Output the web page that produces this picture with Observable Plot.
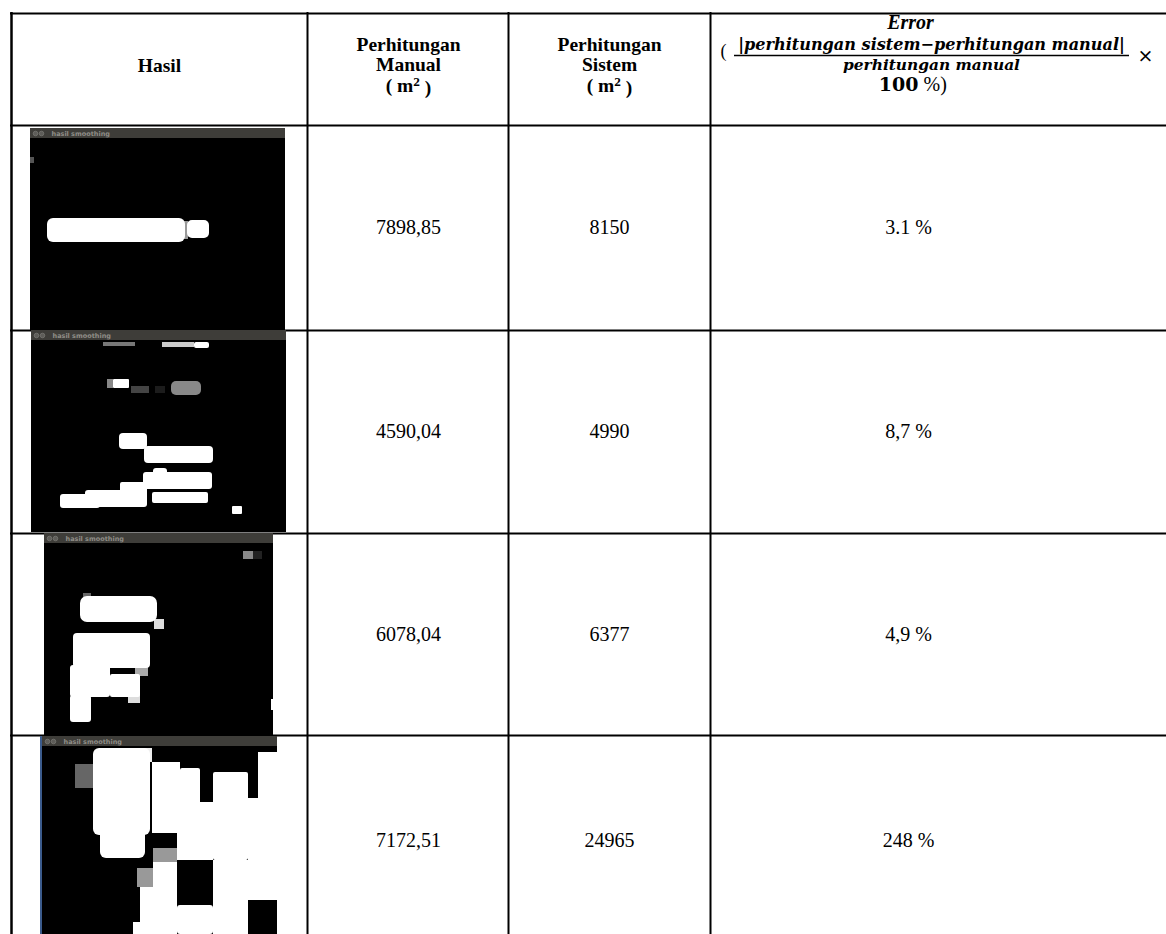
<!DOCTYPE html>
<html><head><meta charset="utf-8">
<script src="https://cdn.jsdelivr.net/npm/d3@7"></script>
<script src="https://cdn.jsdelivr.net/npm/@observablehq/plot@0.6"></script>
<style>html,body{margin:0;padding:0;background:#fff}</style>
</head><body><div id="chart"></div>
<script>
// ---------- table content ----------
const colHasil = ["Hasil"];
const colManual = ["Perhitungan", "Manual", "( m²)"];
const colSistem = ["Perhitungan", "Sistem", "( m²)"];
const errTitle = "Error";
const errNumerator = "|perhitungan sistem−perhitungan manual|";
const errDenominator = "perhitungan manual";
const manualValues = ["7898,85", "4590,04", "6078,04", "7172,51"];
const sistemValues = ["8150", "4990", "6377", "24965"];
const errorValues = ["3.1 %", "8,7 %", "4,9 %", "248 %"];
const windowTitle = "hasil smoothing";

// ---------- layout (pixel space) ----------
const W = 1166, H = 934;
const colEdges = [11, 307, 508, 710];
const rowEdges = [13, 125, 330, 533, 735];
const tableRight = 1166, tableBottom = 945;
const colCenters = [159, 408, 609, 908];
const rowCenters = rowEdges.slice(1).map((e, i, a) => (e + (a[i + 1] ?? tableBottom)) / 2);

// screenshot frames of the "hasil smoothing" windows
const frames = [
  {x1: 30, x2: 285, y1: 128, y2: 330},
  {x1: 31, x2: 286, y1: 330, y2: 532},
  {x1: 44, x2: 273, y1: 533, y2: 735},
  {x1: 42, x2: 277, y1: 736, y2: 934}
];
// blobs seen inside the windows [x1,y1,x2,y2,fill,r]
const blobs1 = [
  [30,157,34,163,"#555",0],[47,218,185,242,"#fff",6],[183,221,188,239,"#999",0],[187,220,209,238,"#fff",5]
];
const blobs2 = [
  [103,342,135,346,"#777",0],[162,342,194,347,"#ccc",0],[194,342,209,348,"#fff",2],
  [107,379,113,388,"#888",0],[113,379,129,388,"#fff",1],[131,386,149,393,"#444",0],[155,386,165,393,"#1c1c1c",0],
  [171,381,201,395,"#888",5],[119,433,147,449,"#fff",4],[144,446,213,463,"#fff",4],
  [153,468,167,476,"#fff",3],[143,472,212,489,"#fff",3],[124,483,143,489,"#888",0],
  [60,494,100,508,"#fff",3],[85,490,147,507,"#fff",3],[120,482,147,500,"#fff",2],
  [152,492,208,503,"#fff",2],[232,506,242,514,"#fff",1]
];
const blobs3 = [
  [243,551,253,559,"#888",0],[253,551,262,559,"#222",0],
  [80,596,157,622,"#fff",7],[83,593,91,599,"#666",0],[132,610,147,619,"#999",0],[154,619,164,629,"#ddd",0],
  [73,633,150,668,"#fff",4],[70,665,110,697,"#fff",3],[110,674,140,697,"#fff",2],[135,667,148,676,"#aaa",0],
  [128,693,140,703,"#ddd",0],[70,695,91,722,"#fff",3],[271,699,273,710,"#fff",0]
];
const blobs4 = [
  [75,764,93,788,"#666",0],[93,748,150,835,"#fff",6],[100,828,145,858,"#fff",6],
  [133,748,152,762,"#eee",0],[135,762,150,785,"#999",0],
  [152,762,180,833,"#fff",0],[180,768,200,833,"#fff",2],[200,802,213,833,"#fff",0],[213,772,248,860,"#fff",2],
  [258,752,277,800,"#fff",0],[248,798,277,900,"#fff",0],[177,830,213,860,"#fff",0],
  [153,848,177,862,"#999",0],[153,862,177,892,"#fff",0],[137,868,153,887,"#999",0],
  [140,887,177,934,"#fff",0],[133,922,177,934,"#fff",0],[213,860,248,934,"#fff",0],[177,905,213,934,"#fff",3]
];
const blobs = [...blobs1, ...blobs2, ...blobs3, ...blobs4].map(([x1,y1,x2,y2,fill,r]) => ({x1,y1,x2,y2,fill,r}));

const serif = "'Liberation Serif', 'Times New Roman', serif";
const mathFont = "'DejaVu Serif', serif";

const hLines = rowEdges.map(y => ({y, x1: colEdges[0] - 1, x2: tableRight}));
const vLines = colEdges.map((x, i) => ({x, y1: rowEdges[0] - 1, y2: H, w: i === 0 ? 2.5 : 2}));

const headerText = [
  ...colHasil.map((t, i) => ({t, x: colCenters[0], y: 65})),
  ...colManual.map((t, i) => ({t, x: colCenters[1], y: 44 + i * 20.5})),
  ...colSistem.map((t, i) => ({t, x: colCenters[2], y: 44 + i * 20.5}))
];
const cells = [];
manualValues.forEach((v, i) => cells.push({t: v, x: colCenters[1], y: rowCenters[i]}));
sistemValues.forEach((v, i) => cells.push({t: v, x: colCenters[2], y: rowCenters[i]}));
errorValues.forEach((v, i) => cells.push({t: v, x: colCenters[3], y: rowCenters[i]}));

const rounded = blobs.filter(b => b.r > 0);
const square = blobs.filter(b => b.r === 0);

const chart = Plot.plot({
  width: W, height: H,
  margin: 0,
  x: {domain: [0, W], range: [0, W], axis: null},
  y: {domain: [0, H], range: [0, H], axis: null},
  style: {background: "#fff"},
  marks: [
    // table grid
    Plot.ruleY(hLines, {y: "y", x1: "x1", x2: "x2", stroke: "#000", strokeWidth: 2}),
    Plot.ruleX(vLines, {x: "x", y1: "y1", y2: "y2", stroke: "#000", strokeWidth: "w"}),
    // window screenshots
    Plot.rect(frames, {x1: "x1", x2: "x2", y1: "y1", y2: "y2", fill: "#000"}),
    Plot.rect(frames.slice(3), {x1: d => d.x1 - 2, x2: "x1", y1: "y1", y2: "y2", fill: "#3b5b8c"}),
    Plot.rect(frames, {x1: "x1", x2: "x2", y1: "y1", y2: d => d.y1 + 10, fill: "#3e3d39"}),
    Plot.dot(frames, {x: d => d.x1 + 5, y: d => d.y1 + 5, r: 2.3, fill: "#5e5d59", stroke: "#85847f", strokeWidth: 0.6}),
    Plot.dot(frames, {x: d => d.x1 + 11, y: d => d.y1 + 5, r: 2.3, fill: "#5e5d59", stroke: "#85847f", strokeWidth: 0.6}),
    Plot.text(frames, {x: d => d.x1 + 21, y: d => d.y1 + 5, text: () => windowTitle, textAnchor: "start", fontSize: 6.5, fill: "#8f8d87", fontFamily: "'DejaVu Sans', sans-serif", fontWeight: "bold"}),
    Plot.rect(square, {x1: "x1", x2: "x2", y1: "y1", y2: "y2", fill: "fill"}),
    ...d3.groups(rounded, d => d.r).map(([r, g]) =>
      Plot.rect(g, {x1: "x1", x2: "x2", y1: "y1", y2: "y2", fill: "fill", rx: r})),
    // header
    Plot.text(headerText, {x: "x", y: "y", text: "t", fontFamily: serif, fontWeight: "bold", fontSize: 19.5, fill: "#000"}),
    Plot.text([errTitle], {x: () => 910, y: () => 22, text: d => d, fontFamily: serif, fontWeight: "bold", fontStyle: "italic", fontSize: 20, fill: "#000"}),
    Plot.text([errNumerator], {x: () => 931, y: () => 44, text: d => d, fontFamily: mathFont, fontWeight: "bold", fontStyle: "italic", fontSize: 16.1, fill: "#000"}),
    Plot.ruleY([55], {x1: 734, x2: 1129, stroke: "#000", strokeWidth: 1.4}),
    Plot.text([errDenominator], {x: () => 931, y: () => 65, text: d => d, fontFamily: mathFont, fontWeight: "bold", fontStyle: "italic", fontSize: 15.4, fill: "#000"}),
    Plot.text(["("], {x: () => 723, y: () => 51, text: d => d, fontFamily: serif, fontSize: 18, fill: "#000"}),
    Plot.text(["×"], {x: () => 1145, y: () => 55, text: d => d, fontFamily: mathFont, fontSize: 19, fill: "#000"}),
    Plot.text(["100"], {x: () => 918, y: () => 84, text: d => d, textAnchor: "end", fontFamily: mathFont, fontWeight: "bold", fontSize: 19, fill: "#000"}),
    Plot.text([" %)"], {x: () => 918, y: () => 84, text: d => d, textAnchor: "start", fontFamily: serif, fontSize: 20, fill: "#000"}),
    // body cells
    Plot.text(cells, {x: "x", y: "y", text: "t", fontFamily: serif, fontSize: 20, fill: "#000"})
  ]
});
// raise the "2" of m² as a real superscript
d3.select(chart).selectAll("text").filter(function() { return this.textContent === "( m²)"; })
  .each(function() {
    const t = d3.select(this);
    t.text(null);
    t.append("tspan").text("( m");
    t.append("tspan").attr("dy", "-0.42em").attr("font-size", "0.68em").text("2");
    t.append("tspan").attr("dy", "0.42em").text(" )");
  });
document.getElementById("chart").appendChild(chart);
</script>
</body></html>
